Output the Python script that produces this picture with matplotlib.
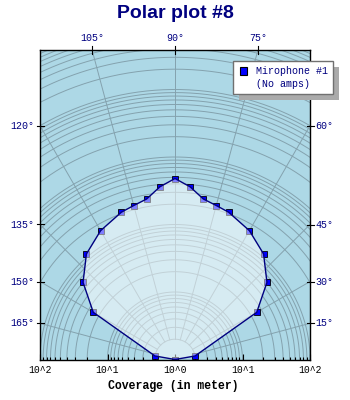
import numpy as np
import matplotlib.pyplot as plt
from matplotlib.patches import Rectangle

# microphone response: angle (deg) and coverage (meter, log radial scale)
angles = [0, 10, 30, 40, 50, 60, 70, 75, 80, 85, 90,
          95, 100, 105, 110, 120, 130, 140, 150, 170, 180]
values = [1, 2, 25, 60, 110, 160, 210, 230, 260, 370, 480,
          370, 260, 230, 210, 160, 110, 60, 25, 2, 1]
label_angles = [15, 30, 45, 60, 75, 90, 105, 120, 135, 150, 165]
xtick_pos = [-2, -1, 0, 1, 2]
xtick_labels = ['10^2', '10^1', '10^0', '10^1', '10^2']

W, H = 350, 400
NAVY = '#000080'
GRID = '#84a2ae'
MONO = 'Liberation Mono'

fig = plt.figure(figsize=(W / 100, H / 100), dpi=100)
ax = fig.add_axes([40 / W, 1 - 359.5 / H, 270 / W, 309.5 / H])
ymax = 4.0 * 309.5 / 270
ax.set_xlim(-2, 2)
ax.set_ylim(0, ymax)
ax.set_facecolor('#add8e6')

# grid circles (log scale, one per 1..9 x 10^d)
t = np.linspace(0, np.pi, 400)
rlim = np.hypot(2, ymax)
for d in range(0, 5):
    for k in range(1, 10):
        r = d + np.log10(k)
        if r == 0 or r > rlim:
            continue
        ax.plot(r * np.cos(t), r * np.sin(t), color=GRID, lw=0.7, zorder=1)

# radial grid lines every 15 degrees
r0 = np.log10(2)
for a in range(0, 181, 15):
    th = np.radians(a)
    ax.plot([r0 * np.cos(th), 6 * np.cos(th)], [r0 * np.sin(th), 6 * np.sin(th)],
            color=GRID, lw=0.7, zorder=1)

# data
th = np.radians(angles)
rr = np.log10(values)
x = rr * np.cos(th)
y = rr * np.sin(th)
ax.plot(x, y, 's', ms=4.2, mfc='#0000ff', mec='black', mew=0.6, zorder=3)
ax.fill(x, y, color='white', alpha=0.5, lw=0, zorder=4)
ax.plot(x, y, color=NAVY, lw=1, zorder=5)

# x axis (log radial scale mirrored)
ax.set_xticks(xtick_pos)
ax.set_xticklabels(xtick_labels, family=MONO, fontsize=7, color='black')
minor = []
for d in range(0, 2):
    for k in range(2, 10):
        minor += [d + np.log10(k), -(d + np.log10(k))]
ax.set_xticks(minor, minor=True)
ax.tick_params(axis='x', which='major', direction='in', length=4, width=0.8, pad=4)
ax.tick_params(axis='x', which='minor', direction='in', length=2.5, width=0.8)
ax.set_yticks([])
for s in ax.spines.values():
    s.set_color('black')
    s.set_linewidth(1)
    s.set_zorder(6)

# angle labels around the frame
tk = 3.5 / 67.5
for a in label_angles:
    tr = np.radians(a)
    if a == 90:
        px, py, side = 0, ymax, 'top'
    elif abs(2 * np.tan(tr)) <= ymax:
        px = 2 if a < 90 else -2
        py = abs(2 * np.tan(tr))
        side = 'right' if a < 90 else 'left'
    else:
        px, py, side = ymax / np.tan(tr), ymax, 'top'
    lab = '%d°' % a
    if side == 'top':
        ax.plot([px, px], [py - tk, py + tk], color='black', lw=0.8, clip_on=False, zorder=7)
        ax.annotate(lab, (px, py), xytext=(0, 5), textcoords='offset points',
                    ha='center', va='bottom', family=MONO, fontsize=7.2, color=NAVY)
    elif side == 'right':
        ax.plot([px - tk, px + tk], [py, py], color='black', lw=0.8, clip_on=False, zorder=7)
        ax.annotate(lab, (px, py), xytext=(4, 0), textcoords='offset points',
                    ha='left', va='center', family=MONO, fontsize=7.2, color=NAVY)
    else:
        ax.plot([px - tk, px + tk], [py, py], color='black', lw=0.8, clip_on=False, zorder=7)
        ax.annotate(lab, (px, py), xytext=(-4, 0), textcoords='offset points',
                    ha='right', va='center', family=MONO, fontsize=7.2, color=NAVY)

fig.text(0.5, 1 - 18 / H, 'Polar plot #8', ha='center', va='baseline',
         fontsize=14, fontweight='bold', color=NAVY, family='Liberation Sans')
fig.text(173.5 / W, 1 - 389 / H, 'Coverage (in meter)', ha='center', va='baseline',
         family=MONO, fontweight='bold', fontsize=8.3, color='black')

# legend box with shadow
def px_rect(x0, y0, x1, y1, **kw):
    return Rectangle((x0 / W, 1 - y1 / H), (x1 - x0) / W, (y1 - y0) / H,
                     transform=fig.transFigure, **kw)

fig.add_artist(px_rect(239, 67, 339, 100, facecolor='#aaaaaa', edgecolor='none', zorder=10))
fig.add_artist(px_rect(233, 61, 333, 94, facecolor='white', edgecolor='#707070', lw=1, zorder=11))
fig.add_artist(px_rect(239.5, 67, 247, 74.5, facecolor='#0000ff', edgecolor='black', lw=0.8, zorder=12))
fig.text(255.5 / W, 1 - 71 / H, 'Mirophone #1', ha='left', va='center',
         family=MONO, fontsize=7.2, color=NAVY, zorder=12)
fig.text(255.5 / W, 1 - 84 / H, '(No amps)', ha='left', va='center',
         family=MONO, fontsize=7.2, color=NAVY, zorder=12)

fig.savefig('out.png', dpi=100, facecolor='white')
